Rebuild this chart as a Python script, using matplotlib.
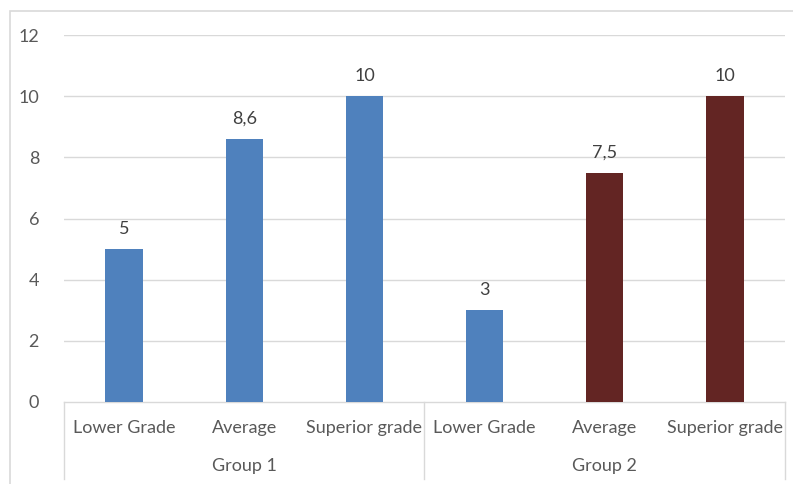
import matplotlib.pyplot as plt
from matplotlib.patches import Rectangle
import matplotlib.transforms as mtransforms

categories = ['Lower Grade', 'Average', 'Superior grade',
              'Lower Grade', 'Average', 'Superior grade']
groups = ['Group 1', 'Group 2']
values = [5, 8.6, 10, 3, 7.5, 10]
value_labels = ['5', '8,6', '10', '3', '7,5', '10']
bar_colors = ['#4F81BD', '#4F81BD', '#4F81BD', '#4F81BD', '#632523', '#632523']
yticks = [0, 2, 4, 6, 8, 10, 12]

plt.rcParams['font.family'] = ['Lato', 'DejaVu Sans']
txt = '#595959'
line_col = '#D9D9D9'
fs = 13

fig = plt.figure(figsize=(7.93, 4.84), dpi=100)
ax = fig.add_axes([64 / 793, (484 - 402) / 484, (785 - 64) / 793, (402 - 35) / 484])

# chart frame
fig.patches.append(Rectangle((10 / 793, -0.05), 2, 1.05 - 11 / 484,
                             transform=fig.transFigure, fill=False,
                             edgecolor=line_col, linewidth=1.2))

x = list(range(len(values)))
ax.bar(x, values, width=0.31, color=bar_colors, zorder=3)
for xi, v, lab in zip(x, values, value_labels):
    ax.text(xi, v + 0.4, lab, ha='center', va='bottom', fontsize=fs, color='#404040')

ax.set_xlim(-0.5, len(values) - 0.5)
ax.set_ylim(0, 12)
ax.set_yticks(yticks)
ax.set_yticklabels([str(t) for t in yticks], fontsize=fs, color=txt)
ax.tick_params(axis='y', length=0, pad=18)
ax.set_xticks([])
for y in yticks[1:]:
    ax.axhline(y, color=line_col, linewidth=1, zorder=1)
for s in ['top', 'right', 'left']:
    ax.spines[s].set_visible(False)
ax.spines['bottom'].set_color(line_col)
ax.spines['bottom'].set_linewidth(1)

# two-level category axis
trans = mtransforms.blended_transform_factory(ax.transData, ax.transAxes)
bottom = -(479 - 402) / 367
for xv in [-0.5, 2.5, 5.5]:
    ax.plot([xv, xv], [0, bottom], transform=trans, color=line_col,
            linewidth=1, clip_on=False)
for xi, c in zip(x, categories):
    ax.text(xi, -(428 - 402) / 367, c, transform=trans, ha='center', va='center',
            fontsize=fs, color=txt)
for gi, g in enumerate(groups):
    ax.text(gi * 3 + 1, -(466 - 402) / 367, g, transform=trans, ha='center',
            va='center', fontsize=fs, color=txt)

fig.savefig('out.png', dpi=100)
